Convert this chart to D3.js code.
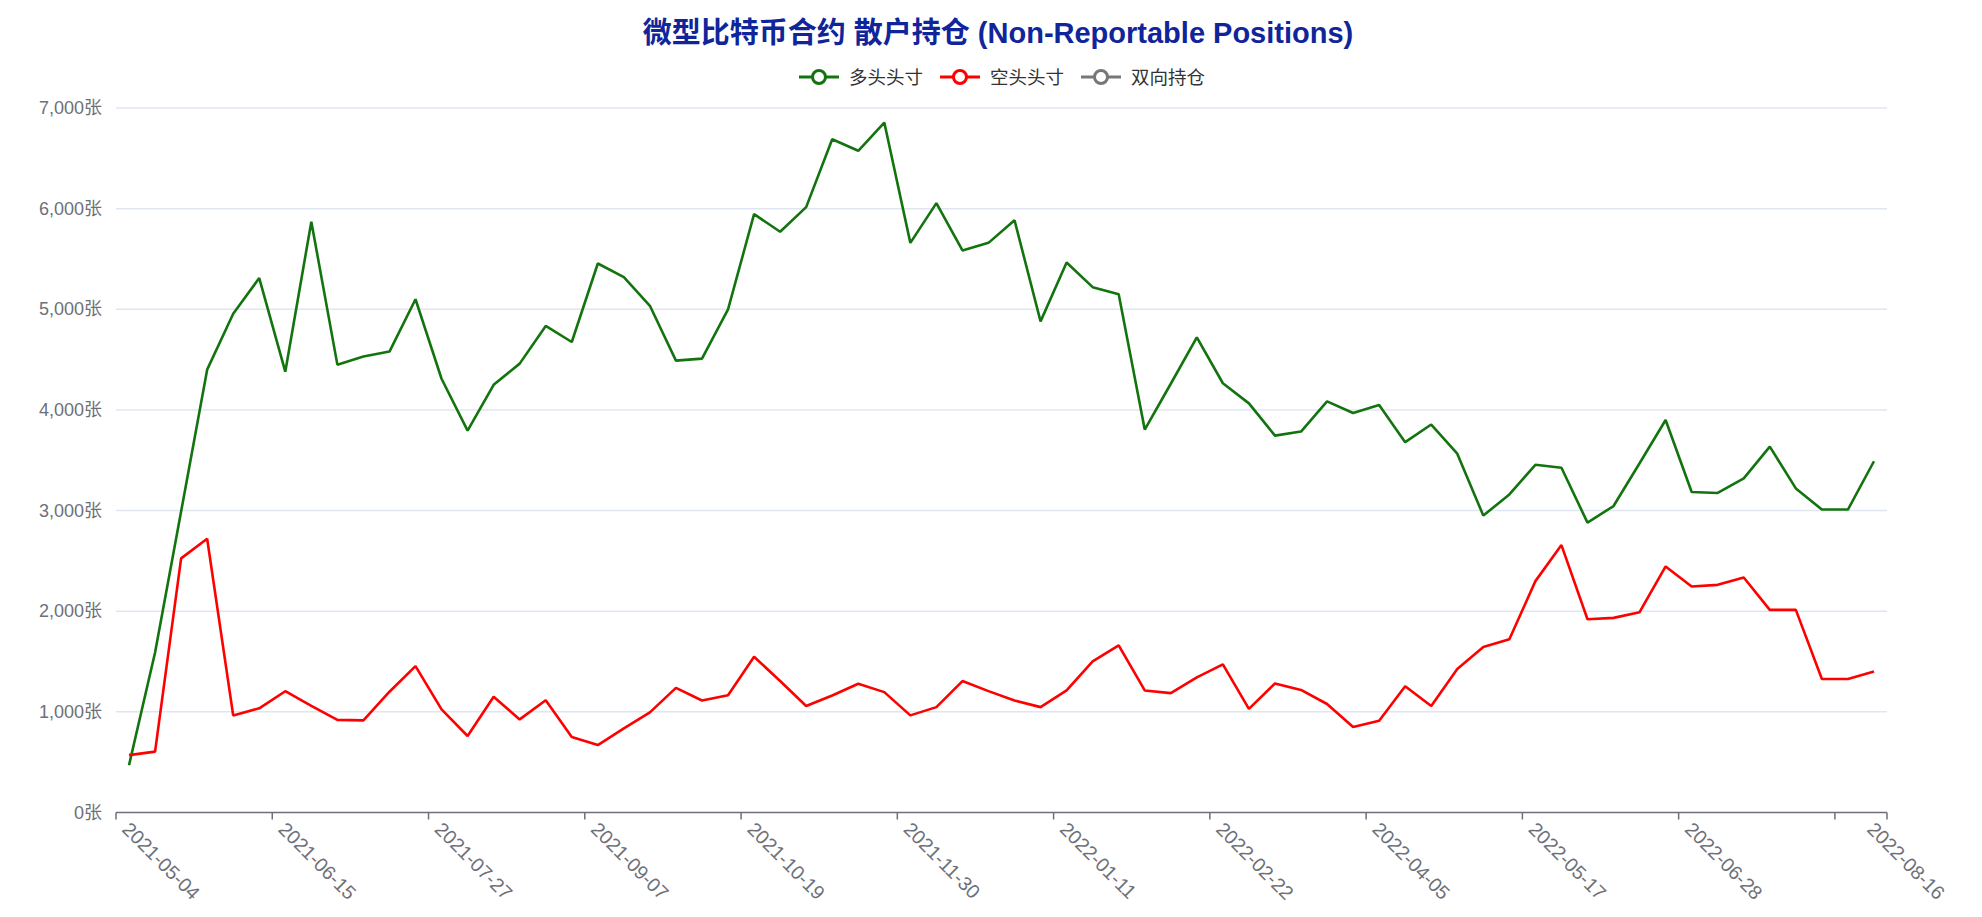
<!DOCTYPE html>
<html>
<head>
<meta charset="utf-8">
<script src="https://cdn.jsdelivr.net/npm/d3@7/dist/d3.min.js"></script>
<style>
  html, body { margin: 0; padding: 0; background: #ffffff; }
  svg { display: block; }
  text { font-family: "Liberation Sans", "Noto Sans CJK SC", sans-serif; }
</style>
</head>
<body>
<svg id="chart" width="1982" height="917"></svg>
<script>
const titleText = "微型比特币合约 散户持仓 (Non-Reportable Positions)";
const seriesNames = ["多头头寸", "空头头寸", "双向持仓"];
const seriesColors = ["#13740f", "#ff0000", "#777777"];

const categories = [
  "2021-05-04","2021-05-11","2021-05-18","2021-05-25","2021-06-01","2021-06-08",
  "2021-06-15","2021-06-22","2021-06-29","2021-07-06","2021-07-13","2021-07-20",
  "2021-07-27","2021-08-03","2021-08-10","2021-08-17","2021-08-24","2021-08-31",
  "2021-09-07","2021-09-14","2021-09-21","2021-09-28","2021-10-05","2021-10-12",
  "2021-10-19","2021-10-26","2021-11-02","2021-11-09","2021-11-16","2021-11-23",
  "2021-11-30","2021-12-07","2021-12-14","2021-12-21","2021-12-28","2022-01-04",
  "2022-01-11","2022-01-18","2022-01-25","2022-02-01","2022-02-08","2022-02-15",
  "2022-02-22","2022-03-01","2022-03-08","2022-03-15","2022-03-22","2022-03-29",
  "2022-04-05","2022-04-12","2022-04-19","2022-04-26","2022-05-03","2022-05-10",
  "2022-05-17","2022-05-24","2022-05-31","2022-06-07","2022-06-14","2022-06-21",
  "2022-06-28","2022-07-05","2022-07-12","2022-07-19","2022-07-26","2022-08-02",
  "2022-08-09","2022-08-16"
];

const longPositions = [
  470, 1590, 2990, 4400, 4955, 5310, 4380, 5870, 4450, 4530, 4580, 5100,
  4310, 3795, 4250, 4460, 4835, 4675, 5455, 5320, 5035, 4490, 4510, 5000,
  5945, 5770, 6015, 6690, 6575, 6855, 5660, 6055, 5585, 5660, 5885, 4880,
  5465, 5220, 5150, 3805, 4260, 4720, 4265, 4065, 3745, 3785, 4085, 3970,
  4050, 3680, 3855, 3565, 2950, 3160, 3455, 3425, 2880, 3045, 3470, 3900,
  3185, 3175, 3320, 3635, 3220, 3010, 3010, 3490
];

const shortPositions = [
  570, 605, 2525, 2720, 965, 1035, 1205, 1060, 920, 915, 1200, 1455,
  1025, 760, 1150, 925, 1115, 750, 670, 835, 995, 1238, 1113, 1166,
  1548, 1306, 1058, 1163, 1279, 1196, 965, 1047, 1306, 1206, 1113, 1047,
  1213, 1502, 1661, 1213, 1186, 1342, 1472, 1030, 1282, 1218, 1078, 849,
  912, 1254, 1058, 1426, 1645, 1721, 2299, 2657, 1920, 1934, 1990, 2445,
  2245, 2262, 2335, 2013, 2013, 1327, 1327, 1400
];

// 双向持仓: no values are drawn in the reference
const spreadPositions = [];

const yTickValues = [0, 1000, 2000, 3000, 4000, 5000, 6000, 7000];
const xTickLabels = [
  "2021-05-04","2021-06-15","2021-07-27","2021-09-07","2021-10-19","2021-11-30",
  "2022-01-11","2022-02-22","2022-04-05","2022-05-17","2022-06-28","2022-08-16"
];
const xTickBoundaries = [
  "2021-05-04","2021-06-15","2021-07-27","2021-09-07","2021-10-19","2021-11-30",
  "2022-01-11","2022-02-22","2022-04-05","2022-05-17","2022-06-28","2022-08-09"
];

const seriesData = [longPositions, shortPositions, spreadPositions];

const svg = d3.select("#chart");
const plot = { left: 116, right: 1887, top: 108, bottom: 812.5 };
const axisColor = "#6E7079";

const x = d3.scaleBand().domain(categories).range([plot.left, plot.right]).paddingInner(0).paddingOuter(0);
const y = d3.scaleLinear().domain([0, 7000]).range([plot.bottom, plot.top]);
const cx = d => x(d) + x.bandwidth() / 2;

// Grid lines
svg.append("g").selectAll("line").data(yTickValues.filter(v => v > 0)).join("line")
  .attr("x1", plot.left).attr("x2", plot.right)
  .attr("y1", d => y(d)).attr("y2", d => y(d))
  .attr("stroke", "#E0E6F1").attr("stroke-width", 1.5);

// Y labels
svg.append("g").selectAll("text").data(yTickValues).join("text")
  .attr("x", plot.left - 14).attr("y", d => y(d))
  .attr("text-anchor", "end").attr("dominant-baseline", "central")
  .attr("font-size", 18).attr("fill", axisColor)
  .text(d => d3.format(",")(d) + "张");

// X axis line
svg.append("line")
  .attr("x1", plot.left).attr("x2", plot.right)
  .attr("y1", y(0)).attr("y2", y(0))
  .attr("stroke", axisColor).attr("stroke-width", 1.5);

// X ticks at band boundaries
const tickXs = xTickBoundaries.map(d => x(d)).concat([plot.right]);
svg.append("g").selectAll("line").data(tickXs).join("line")
  .attr("x1", d => d).attr("x2", d => d)
  .attr("y1", y(0)).attr("y2", y(0) + 7)
  .attr("stroke", axisColor).attr("stroke-width", 1.5);

// X labels
svg.append("g").selectAll("text").data(xTickLabels).join("text")
  .attr("transform", d => `translate(${cx(d) - 3},${y(0) + 13}) rotate(45)`)
  .attr("text-anchor", "start").attr("dominant-baseline", "central")
  .attr("font-size", 19.5).attr("fill", axisColor)
  .text(d => d);

// Lines
const line = d3.line().x((d, i) => cx(categories[i])).y(d => y(d));
seriesData.forEach((data, k) => {
  if (!data.length) return;
  svg.append("path")
    .datum(data)
    .attr("d", line)
    .attr("fill", "none")
    .attr("stroke", seriesColors[k])
    .attr("stroke-width", 2.6)
    .attr("stroke-linejoin", "bevel");
});

// Title
svg.append("text")
  .attr("x", 998).attr("y", 33)
  .attr("text-anchor", "middle").attr("dominant-baseline", "central")
  .attr("font-size", 29).attr("font-weight", "bold").attr("fill", "#10259a")
  .text(titleText);

// Legend
const legend = svg.append("g");
let lx = 0;
const legendY = 77;
seriesNames.forEach((name, k) => {
  const g = legend.append("g").attr("transform", `translate(${lx},0)`);
  g.append("line").attr("x1", 0).attr("x2", 40).attr("y1", legendY).attr("y2", legendY)
    .attr("stroke", seriesColors[k]).attr("stroke-width", 3);
  g.append("circle").attr("cx", 20).attr("cy", legendY).attr("r", 6.5)
    .attr("fill", "#fff").attr("stroke", seriesColors[k]).attr("stroke-width", 3);
  const t = g.append("text").attr("x", 50).attr("y", legendY)
    .attr("dominant-baseline", "central").attr("font-size", 18.5).attr("fill", "#333")
    .text(name);
  const tw = t.node().getComputedTextLength();
  lx += 50 + tw + 17;
});
const legendW = lx - 17;
legend.attr("transform", `translate(${1002 - legendW / 2},0)`);
</script>
</body>
</html>
